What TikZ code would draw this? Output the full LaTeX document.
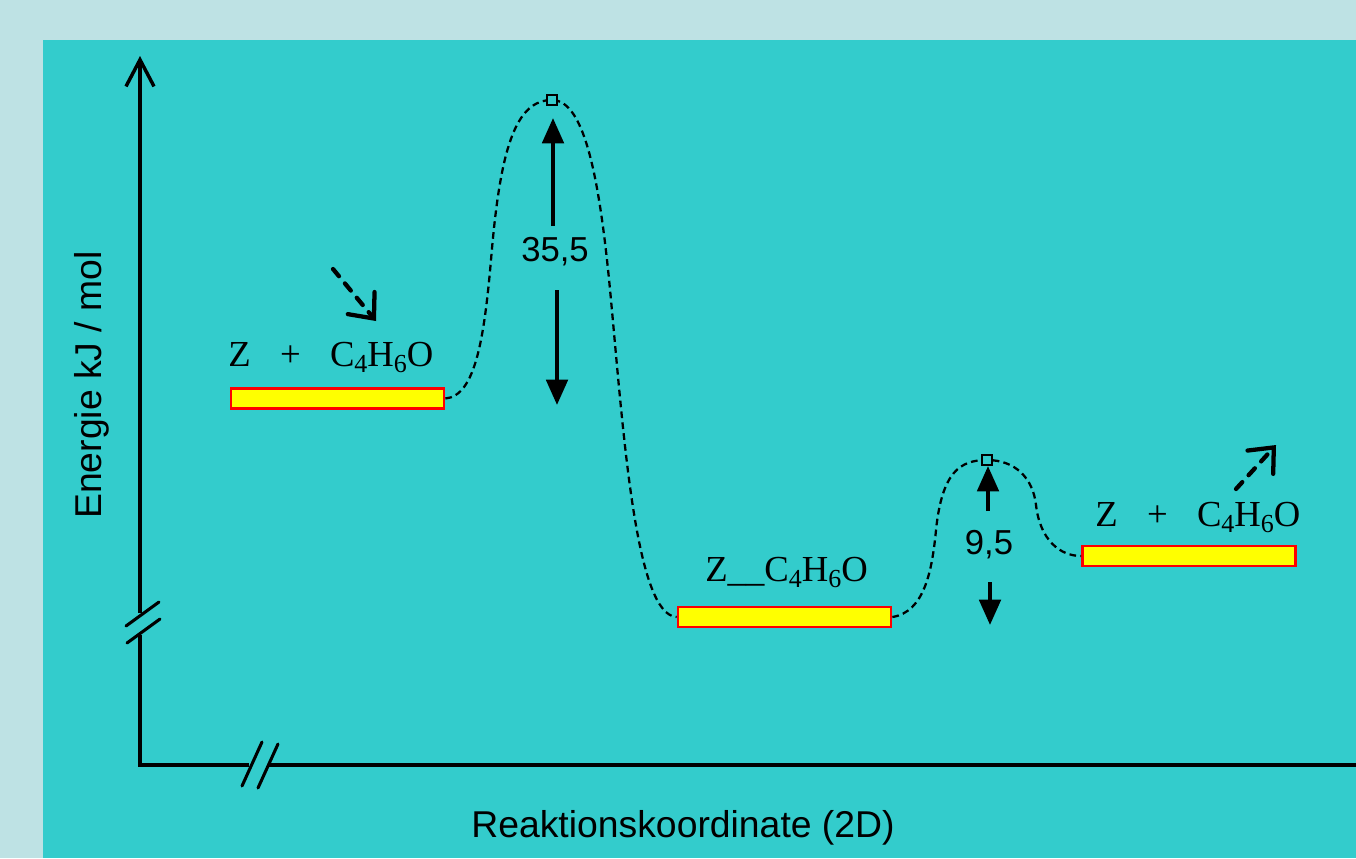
\documentclass[tikz,border=0pt]{standalone}
\usepackage{fontspec}
\setmainfont{Liberation Serif}
\setsansfont{Liberation Sans}
\usetikzlibrary{arrows.meta}
\definecolor{outerbg}{RGB}{190,226,228}
\definecolor{panel}{RGB}{51,204,204}
\definecolor{levelfill}{RGB}{255,255,0}
\definecolor{levelline}{RGB}{255,0,0}
\newcommand\chemsub[1]{\raisebox{-0.4ex}{\fontsize{19.5}{20}\selectfont #1}}
\begin{document}
\begin{tikzpicture}[x=0.75pt,y=-0.75pt,
  level/.style={draw=levelline, fill=levelfill, line width=1.8pt, minimum width=160pt, minimum height=15pt, inner sep=0pt},
  tsq/.style={draw=black, fill=panel, line width=1.1pt, minimum size=7.5pt, inner sep=0pt},
  curve/.style={line width=1.7pt, dash pattern=on 5pt off 3.2pt},
  bigarrow/.style={line width=3pt, -{Triangle[length=19pt,width=16pt]}},
  hintarrow/.style={line width=3.2pt, line cap=round, dash pattern=on 7pt off 7pt, -{Straight Barb[length=15pt,width=26pt,line width=3.2pt,line cap=round]}},
  axis/.style={line width=2.6pt},
  brk/.style={line width=2.3pt, line cap=round},
  chem/.style={font=\fontsize{27.5}{30}\selectfont, inner sep=0pt},
  num/.style={font=\sffamily\fontsize{26}{30}\selectfont, inner sep=0pt},
  axlabel/.style={font=\sffamily\fontsize{28}{32}\selectfont, inner sep=0pt}
]
\fill[outerbg] (0,0) rectangle (1356,858);
\fill[panel] (43,40) rectangle (1356,858);
\useasboundingbox (0,0) rectangle (1356,858);

% axes
\coordinate (ytip) at (140,56);
\coordinate (ybrkA) at (140,613);
\coordinate (ybrkB) at (140,635);
\coordinate (corner) at (140,765);
\coordinate (xbrkA) at (249,765);
\coordinate (xbrkB) at (268,765);
\coordinate (xend) at (1356,765);
\draw[axis, -{Straight Barb[length=20pt,width=21pt,line width=2.6pt]}] (ybrkA) -- (ytip);
\draw[line width=2.4pt] (ybrkB) -- (corner) -- (xbrkA);
\draw[line width=3.2pt] (xbrkB) -- (xend);
\draw[brk] (126,626) -- (159,602);
\draw[brk] (127,643) -- (160,619);
\draw[brk] (242,786) -- (262,742);
\draw[brk] (258,788) -- (278,744);

% levels
\node[level] (lev1) at (337.5,398.5) {};
\node[level] (lev2) at (784.5,617) {};
\node[level] (lev3) at (1189,556) {};

% transition states
\coordinate (p1) at (552,100);
\coordinate (p2) at (987,460);

% profile curve
\draw[curve] (lev1.east) .. controls (475,396) and (484,340) .. (491,260)
  .. controls (500,150) and (515,100) .. (p1)
  .. controls (585,100) and (600,180) .. (611,300)
  .. controls (624,440) and (636,615) .. (lev2.west);
\draw[curve] (lev2.east) .. controls (924,612) and (932,572) .. (936,530)
  .. controls (942,472) and (960,460) .. (p2)
  .. controls (1015,460) and (1033,478) .. (1036,505)
  .. controls (1040,540) and (1060,556) .. (lev3.west);

\node[tsq] (ts1) at (p1) {};
\node[tsq] (ts2) at (p2) {};

% energy arrows
\node[num] (e1) at (555,252) {35,5};
\coordinate (e1up) at (553,118);
\coordinate (e1dn) at (557,405);
\draw[bigarrow] (553,226) -- (e1up);
\draw[bigarrow] (557,290) -- (e1dn);
\node[num] (e2) at (989,545) {9,5};
\coordinate (e2up) at (988,466);
\coordinate (e2dn) at (990,625);
\draw[bigarrow] (988,511) -- (e2up);
\draw[bigarrow] (990,582) -- (e2dn);

% hint arrows
\coordinate (h1s) at (333,269);
\coordinate (h1e) at (376,321);
\draw[hintarrow] (h1s) -- (h1e);
\coordinate (h2s) at (1236,489);
\coordinate (h2e) at (1276,445);
\draw[hintarrow] (h2s) -- (h2e);

% labels
\node[chem, anchor=base west] (l1) at (228,366) {Z\hspace{0.8em}+\hspace{0.8em}C\chemsub{4}H\chemsub{6}O};
\node[chem, anchor=base west] (l2) at (705,581) {Z\_\_C\chemsub{4}H\chemsub{6}O};
\node[chem, anchor=base west] (l3) at (1095,526) {Z\hspace{0.8em}+\hspace{0.8em}C\chemsub{4}H\chemsub{6}O};

\node[axlabel] (xl) at (683,828) {Reaktionskoordinate (2D)};
\node[axlabel, rotate=90] (yl) at (92,385) {Energie kJ / mol};
\end{tikzpicture}
\end{document}
